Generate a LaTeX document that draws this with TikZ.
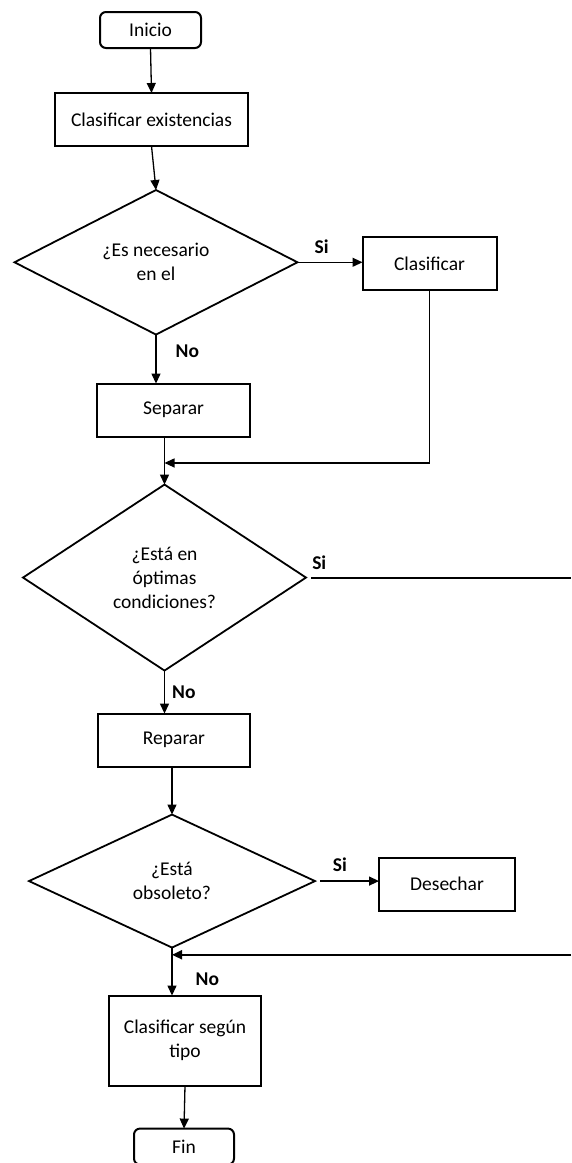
\documentclass[tikz,border=0pt]{standalone}
\usepackage{fontspec}
\setmainfont{Carlito}
\usepackage{tikz}
\usetikzlibrary{shapes.geometric, arrows.meta, positioning, calc}

\begin{document}
\begin{tikzpicture}[
        x=1pt, y=-1pt,
        font=\fontsize{19.5}{24}\selectfont,
        term/.style={
            rectangle,
            draw=black,
            rounded corners=6pt,
            line width=2pt,
            minimum width=101pt,
            minimum height=36pt,
            inner sep=0pt,
            outer sep=0pt,
            align=center
        },
        proc/.style={
            rectangle,
            draw=black,
            line width=2pt,
            minimum height=53pt,
            inner sep=0pt,
            outer sep=0pt,
            align=center
        },
        decision/.style={
            diamond,
            draw=black,
            line width=1.8pt,
            inner sep=0pt,
            outer sep=0pt,
            align=center
        },
        arrow/.style={-{Triangle[length=10pt, width=9pt]}, line width=1.3pt},
        answer/.style={font=\fontsize{19.5}{24}\selectfont\bfseries, inner sep=2pt}
    ]

    \useasboundingbox (0,0) rectangle (571,1163);

    \node (inicio) [term] at (150.5,30) {Inicio};
    \node (clasif) [proc, minimum width=193pt, below=45pt of inicio, xshift=1pt] {Clasificar existencias};
    \node (q1) [decision, minimum width=283pt, minimum height=143pt, below=44pt of clasif, xshift=4.5pt] {¿Es necesario\\en el};
    \node (clasificar) [proc, minimum width=134pt, right=65pt of q1, yshift=-1.5pt] {Clasificar};
    \node (separar) [proc, minimum width=153pt, below=49pt of q1, xshift=17.5pt] {Separar};
    \node (q2) [decision, minimum width=283pt, minimum height=186pt, below=48pt of separar, xshift=-9pt] {¿Está en\\óptimas\\condiciones?};
    \node (reparar) [proc, minimum width=152pt, below=43pt of q2, xshift=9.5pt] {Reparar};
    \node (q3) [decision, minimum width=286pt, minimum height=133pt, below=48pt of reparar, xshift=-2pt] {¿Está\\obsoleto?};
    \node (desechar) [proc, minimum width=136pt, right=64pt of q3, yshift=-3pt] {Desechar};
    \node (tipo) [proc, minimum width=152pt, minimum height=90pt, below=48pt of q3, xshift=13pt] {Clasificar según\\tipo};
    \node (fin) [term, minimum width=100pt, below=43pt of tipo, xshift=-1pt] {Fin};

    \coordinate (rim) at (571,0);
    \coordinate (m1) at ($(q2.north |- separar.south)!.55!(q2.north)$);
    \coordinate (m2) at ($(q3.south)!.15!(q3.south |- tipo.north)$);

    \draw [arrow] (inicio.south) -- (clasif.north);
    \draw [arrow] (clasif.south) -- (q1.north);
    \draw [arrow] (q1.east) -- (q1.east -| clasificar.west) node [answer, above=6pt, pos=.37] {Si};
    \draw [arrow] (q1.south) -- (q1.south |- separar.north) node [answer, right=17pt, pos=.35] {No};
    \draw [arrow] (q2.north |- separar.south) -- (q2.north);
    \draw [arrow] (clasificar.south) |- (m1);
    \draw [line width=2pt, shorten <=5pt] (q2.east) -- (q2.east -| rim) node [answer, above=5pt, pos=.05] {Si};
    \draw [arrow] (q2.south) -- (q2.south |- reparar.north) node [answer, right=5pt, pos=.51] {No};
    \draw [arrow] (q3.north |- reparar.south) -- (q3.north);
    \draw [arrow, shorten <=5pt] (q3.east) -- (q3.east -| desechar.west) node [answer, above=6.5pt, pos=.39] {Si};
    \draw [arrow] (q3.south) -- (q3.south |- tipo.north) node [answer, right=21pt, pos=.65] {No};
    \draw [arrow, line width=2pt] (m2 -| rim) -- (m2);
    \draw [arrow] (tipo.south) -- (fin.north);

\end{tikzpicture}
\end{document}
